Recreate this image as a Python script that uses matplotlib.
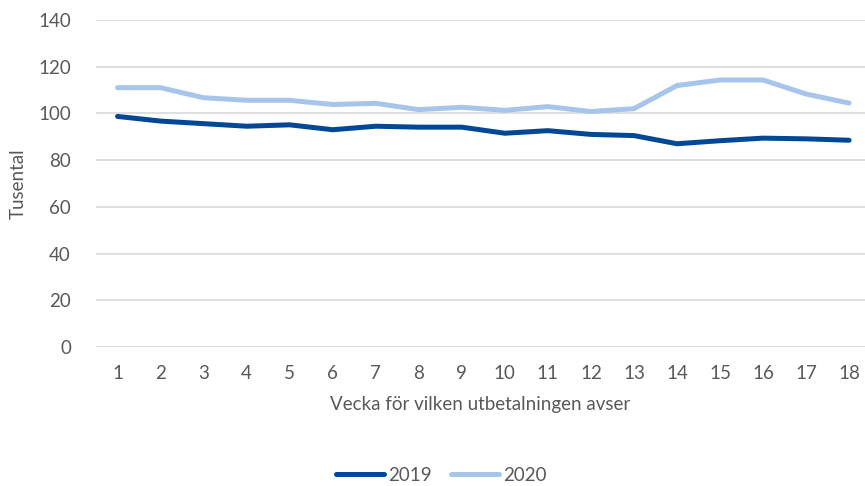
import matplotlib
matplotlib.use("Agg")
import matplotlib.pyplot as plt

# Data (thousands)
veckor = list(range(1, 19))
antal_2019 = [98.7, 96.7, 95.6, 94.5, 95.1, 93.0, 94.5, 94.1, 94.1, 91.5,
              92.6, 91.0, 90.5, 87.0, 88.3, 89.4, 89.1, 88.5]
antal_2020 = [111.0, 111.0, 106.7, 105.6, 105.6, 103.8, 104.3, 101.6, 102.6, 101.3,
              102.9, 100.8, 102.0, 111.9, 114.3, 114.3, 108.3, 104.4]

plt.rcParams["font.family"] = ["Lato", "DejaVu Sans"]
text_color = "#595959"

fig = plt.figure(figsize=(8.65, 4.86), dpi=100)
ax = fig.add_axes([0.111, 0.286, 0.889, 0.673])

ax.plot(veckor, antal_2019, color="#004896", linewidth=3.6, label="2019",
        solid_capstyle="round", solid_joinstyle="round")
ax.plot(veckor, antal_2020, color="#A7C5EA", linewidth=3.6, label="2020",
        solid_capstyle="round", solid_joinstyle="round")

ax.set_xlim(0.5, 18.37)
ax.set_ylim(0, 140)
ax.set_yticks(range(0, 141, 20))
ax.set_xticks(veckor)
ax.grid(axis="y", color="#D9D9D9", linewidth=1.2)
ax.set_axisbelow(True)
for s in ax.spines.values():
    s.set_visible(False)
ax.tick_params(length=0, labelsize=13.5, colors=text_color, pad=13)
ax.tick_params(axis="y", pad=18)

ax.set_ylabel("Tusental", fontsize=13.5, color=text_color, labelpad=8)
ax.set_xlabel("Vecka för vilken utbetalningen avser", fontsize=13.5, color=text_color, labelpad=10)

fig.legend(loc="lower center", bbox_to_anchor=(0.51, -0.03), ncol=2, frameon=False,
           fontsize=13.5, labelcolor=text_color, handlelength=2.6, columnspacing=1.0,
           handletextpad=0.2)

plt.savefig("out.png", dpi=100)
